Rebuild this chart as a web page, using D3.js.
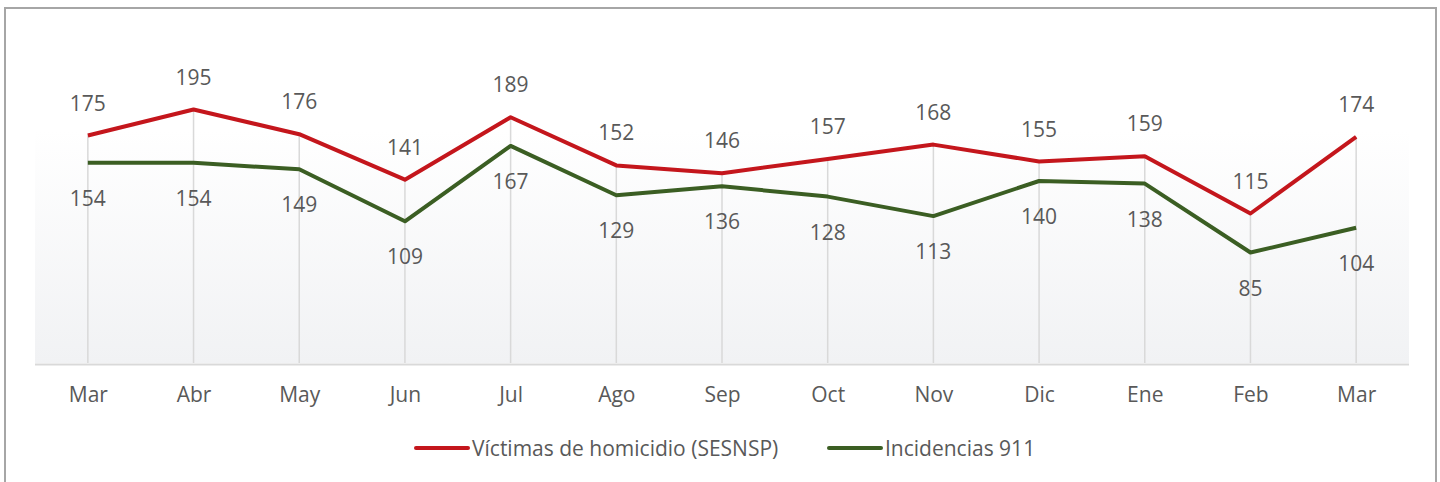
<!DOCTYPE html>
<html><head><meta charset="utf-8">
<script src="https://cdn.jsdelivr.net/npm/d3@7"></script>
<style>body{margin:0;background:#fff}svg{display:block}</style>
</head><body>
<script>
const categories = ["Mar","Abr","May","Jun","Jul","Ago","Sep","Oct","Nov","Dic","Ene","Feb","Mar"];
const victimas = [175,195,176,141,189,152,146,157,168,155,159,115,174];
const incidencias = [154,154,149,109,167,129,136,128,113,140,138,85,104];
const seriesNames = ["Víctimas de homicidio (SESNSP)","Incidencias 911"];

(function(){
const W=1440,H=482;
const svg=d3.select("body").append("svg").attr("width",W).attr("height",H);
const font="'Open Sans', sans-serif";
const fs=21;
const pLeft=35,pRight=1409,pTop=39,base=363;

const defs=svg.append("defs");
const g=defs.append("linearGradient").attr("id","bg").attr("x1",0).attr("y1",0).attr("x2",0).attr("y2",1);
g.append("stop").attr("offset","0%").attr("stop-color","#ffffff");
g.append("stop").attr("offset","28%").attr("stop-color","#ffffff");
g.append("stop").attr("offset","100%").attr("stop-color","#f1f2f4");

svg.append("rect").attr("x",5).attr("y",8).attr("width",1431).attr("height",H+10)
  .attr("fill","#fff").attr("stroke","#a6a6a6").attr("stroke-width",2);

svg.append("rect").attr("x",pLeft).attr("y",pTop).attr("width",pRight-pLeft).attr("height",base-pTop).attr("fill","url(#bg)");

const x=d3.scalePoint().domain(d3.range(categories.length)).range([pLeft,pRight]).padding(0.5);
const y=d3.scaleLinear().domain([0,250]).range([base,base-325]);

// drop lines
svg.append("g").selectAll("line").data(victimas).join("line")
  .attr("x1",(d,i)=>x(i)).attr("x2",(d,i)=>x(i)).attr("y1",d=>y(d)).attr("y2",base)
  .attr("stroke","#d9d9d9").attr("stroke-width",1.5);

// baseline
svg.append("line").attr("x1",pLeft).attr("x2",pRight).attr("y1",base+1.5).attr("y2",base+1.5)
  .attr("stroke","#d9d9d9").attr("stroke-width",2);

// x axis
const xa=d3.axisBottom(x).tickSize(0).tickFormat(i=>categories[i]);
const ax=svg.append("g").attr("transform",`translate(0,${base})`).call(xa);
ax.select(".domain").remove();
ax.selectAll("text").attr("dy",0).attr("y",39).attr("font-family",font).attr("font-size",fs).attr("fill","#595959");

const line=d3.line().x((d,i)=>x(i)).y(d=>y(d));
const red="#c4161c", green="#3b5e23";
svg.append("path").datum(victimas).attr("d",line).attr("fill","none").attr("stroke",red).attr("stroke-width",4).attr("stroke-linejoin","round");
svg.append("path").datum(incidencias).attr("d",line).attr("fill","none").attr("stroke",green).attr("stroke-width",4).attr("stroke-linejoin","round");

svg.append("g").selectAll("text").data(victimas).join("text")
  .attr("x",(d,i)=>x(i)).attr("y",d=>y(d)-25).attr("text-anchor","middle")
  .attr("font-family",font).attr("font-size",fs).attr("fill","#595959").text(d=>d);
svg.append("g").selectAll("text").data(incidencias).join("text")
  .attr("x",(d,i)=>x(i)).attr("y",d=>y(d)+43).attr("text-anchor","middle")
  .attr("font-family",font).attr("font-size",fs).attr("fill","#595959").text(d=>d);

// legend
const leg=[{n:seriesNames[0],c:red,x:416},{n:seriesNames[1],c:green,x:829}];
leg.forEach(l=>{
  svg.append("line").attr("x1",l.x).attr("x2",l.x+52).attr("y1",448).attr("y2",448).attr("stroke",l.c).attr("stroke-width",4).attr("stroke-linecap","round");
  svg.append("text").attr("x",l.x+56).attr("y",456).attr("font-family",font).attr("font-size",fs).attr("fill","#595959").text(l.n);
});
})();
</script>
</body></html>
